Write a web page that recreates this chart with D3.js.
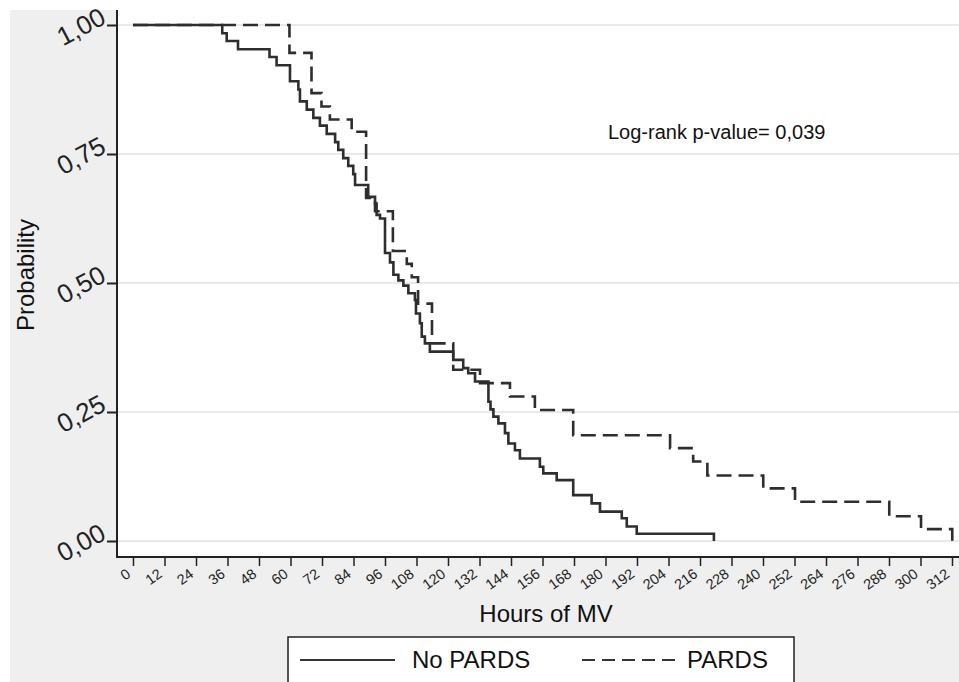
<!DOCTYPE html>
<html>
<head>
<meta charset="utf-8">
<script src="https://cdn.jsdelivr.net/npm/d3@7"></script>
<style>
  body { margin: 0; background: #fff; }
  text { font-family: "Liberation Sans", Arial, sans-serif; fill: #111; }
</style>
</head>
<body>
<svg id="chart"></svg>
<script>
// Kaplan-Meier steps (hours, survival after the step)
const noPardsTime = [0, 34, 35.7, 40, 52, 54.7, 59.8, 63, 63.6, 66.2, 68.7, 71.2, 73.8, 77, 78.2, 80.1, 82, 83.9, 84.6,
  89.6, 92.2, 92.8, 94.1, 96, 97.9, 99.2, 101.1, 103, 104.9, 107.4, 107.8, 109.3, 110, 111.2, 113.1,
  122, 125.8, 127.7, 130.3, 135.4, 136.2, 137.3, 139.2, 141.7, 143, 145.5, 147.4,
  155, 156.3, 161.4, 167.7, 174.7, 177.9, 186.2, 188.1, 191.9, 221.3];
const noPardsSurv = [1, 0.984, 0.969, 0.953, 0.938, 0.922, 0.891, 0.875, 0.852, 0.836, 0.82, 0.805, 0.789, 0.773, 0.758, 0.742, 0.727, 0.711, 0.69,
  0.667, 0.654, 0.632, 0.625, 0.558, 0.54, 0.516, 0.505, 0.495, 0.48, 0.467, 0.441, 0.422, 0.396, 0.383, 0.367,
  0.351, 0.335, 0.325, 0.309, 0.27, 0.255, 0.241, 0.228, 0.209, 0.189, 0.176, 0.16,
  0.144, 0.131, 0.118, 0.089, 0.073, 0.057, 0.044, 0.028, 0.014, 0];

const pardsTime = [0, 59.6, 68, 71.8, 75, 83.3, 88.8, 92.2, 99, 104.3, 106.2, 108.6, 113.9, 122, 132.2,
  143.6, 153.1, 167.7, 204.6, 213.4, 218.8, 240.1, 252.2, 288.1, 300.2, 312.1];
const pardsSurv = [1, 0.946, 0.868, 0.842, 0.817, 0.793, 0.665, 0.639, 0.562, 0.537, 0.511, 0.46, 0.383, 0.332, 0.306,
  0.28, 0.254, 0.205, 0.18, 0.154, 0.127, 0.102, 0.076, 0.048, 0.023, 0];

const xTicks = d3.range(0, 313, 12);
const yTicks = [0, 0.25, 0.5, 0.75, 1];
const annotation = "Log-rank p-value= 0,039";

const width = 959, height = 682;
const plot = { left: 117, top: 10, right: 959, bottom: 557 };

const svg = d3.select("#chart").attr("width", width).attr("height", height);

// grey panel and white plot region
svg.append("rect").attr("x", 10).attr("y", 10).attr("width", width - 10).attr("height", height - 10).attr("fill", "#efefef");
svg.append("rect").attr("x", plot.left).attr("y", 0).attr("width", plot.right - plot.left).attr("height", plot.bottom)
  .attr("fill", "#fff");

const x = d3.scaleLinear().domain([0, 312]).range([133, 952]);
const y = d3.scaleLinear().domain([0, 1]).range([541, 25]);

// grid
svg.append("g").selectAll("line").data(yTicks).join("line")
  .attr("x1", plot.left).attr("x2", plot.right)
  .attr("y1", d => y(d)).attr("y2", d => y(d))
  .attr("stroke", "#e9e9e9").attr("stroke-width", 2);

// y axis
const yAxis = svg.append("g").attr("transform", `translate(${plot.left},0)`)
  .call(d3.axisLeft(y).tickValues(yTicks).tickSize(10).tickFormat(d => d3.format(".2f")(d).replace(".", ",")));
yAxis.select(".domain").remove();
yAxis.selectAll(".tick line").attr("stroke", "#222").attr("stroke-width", 2);
yAxis.selectAll(".tick text")
  .attr("x", 0).attr("dy", "0.35em")
  .attr("text-anchor", "middle")
  .attr("transform", "translate(-36,1) rotate(-28)")
  .style("font-size", "26px").style("fill", "#222");

// x axis
const xAxis = svg.append("g").attr("transform", `translate(0,${plot.bottom})`)
  .call(d3.axisBottom(x).tickValues(xTicks).tickSize(9));
xAxis.select(".domain").remove();
xAxis.selectAll(".tick line").attr("stroke", "#222").attr("stroke-width", 1.5);
xAxis.selectAll(".tick text")
  .attr("y", 0).attr("dy", 0)
  .attr("text-anchor", "end")
  .attr("transform", "translate(-2,19) rotate(-36)")
  .style("font-size", "14.5px").style("fill", "#222");

// axis lines
svg.append("line").attr("x1", plot.left).attr("x2", plot.left).attr("y1", plot.top).attr("y2", plot.bottom + 1)
  .attr("stroke", "#222").attr("stroke-width", 2);
svg.append("line").attr("x1", plot.left).attr("x2", plot.right).attr("y1", plot.bottom).attr("y2", plot.bottom)
  .attr("stroke", "#222").attr("stroke-width", 2);

// curves
const line = d3.line().x(d => x(d[0])).y(d => y(d[1])).curve(d3.curveStepAfter);

svg.append("path")
  .datum(d3.zip(noPardsTime, noPardsSurv))
  .attr("d", line)
  .attr("fill", "none").attr("stroke", "#2e2e2e").attr("stroke-width", 2.6);

svg.append("path")
  .datum(d3.zip(pardsTime, pardsSurv))
  .attr("d", line)
  .attr("fill", "none").attr("stroke", "#2e2e2e").attr("stroke-width", 2.6)
  .attr("stroke-dasharray", "15,7");

// annotation
svg.append("text").attr("x", 608).attr("y", 139).style("font-size", "20px").text(annotation);

// axis titles
svg.append("text")
  .attr("transform", "translate(34,275) rotate(-90)")
  .attr("text-anchor", "middle")
  .style("font-size", "24px")
  .text("Probability");

svg.append("text")
  .attr("x", 546).attr("y", 622)
  .attr("text-anchor", "middle")
  .style("font-size", "24px")
  .text("Hours of MV");

// legend
const legend = svg.append("g");
legend.append("rect").attr("x", 288).attr("y", 637).attr("width", 506).attr("height", 60)
  .attr("fill", "#fff").attr("stroke", "#222").attr("stroke-width", 1.5);
legend.append("line").attr("x1", 300).attr("x2", 395).attr("y1", 660).attr("y2", 660)
  .attr("stroke", "#333").attr("stroke-width", 2);
legend.append("text").attr("x", 412).attr("y", 668).style("font-size", "24px").text("No PARDS");
legend.append("line").attr("x1", 582).attr("x2", 679).attr("y1", 660).attr("y2", 660)
  .attr("stroke", "#333").attr("stroke-width", 2).attr("stroke-dasharray", "13,7");
legend.append("text").attr("x", 687).attr("y", 668).style("font-size", "24px").text("PARDS");
</script>
</body>
</html>
